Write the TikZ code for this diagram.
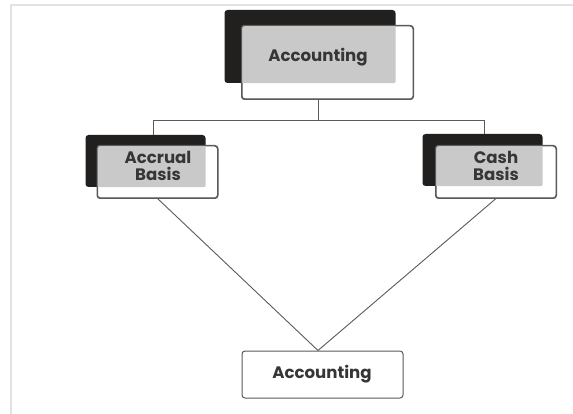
\documentclass[tikz,border=0pt]{standalone}
\usepackage{fontspec}
\setmainfont{Poppins}
\usepackage{tikz}
\usetikzlibrary{positioning,calc}
\definecolor{backink}{HTML}{221F1F}
\definecolor{midgray}{HTML}{C9C9C9}
\definecolor{edgegray}{HTML}{5A5A5A}
\definecolor{textgray}{HTML}{363636}
\definecolor{framegray}{HTML}{E2E2E2}

\begin{document}
\begin{tikzpicture}[
  x=1pt, y=-1pt,
  font=\fontsize{16.6}{17}\selectfont\bfseries,
  backbox/.style={fill=backink, draw=none, rounded corners=3pt, inner sep=0pt},
  frontbox/.style={fill=white, draw=edgegray, line width=1pt, rounded corners=3pt, inner sep=0pt},
  lbl/.style={text=textgray, align=center, inner sep=0pt},
  ln/.style={draw=edgegray, line width=0.9pt},
  frame/.style={draw=framegray, line width=1.5pt}
]
\useasboundingbox (0,0) rectangle (573,414);

% ==== page frame
\draw[frame] (573,5) -- (11,5) -- (11,414);

% ==== stacked boxes: black card behind, outlined card in front, grey overlap
\foreach \n/\bx/\by/\fx/\fy/\w/\h in {acct/310/46.5/327.5/62.5/171/73,
                                       acr/145.5/161/157.5/172/120/52,
                                       cash/482.5/160/496/172/120/52} {
  \node[backbox, minimum width=\w, minimum height=\h] (b\n) at (\bx,\by) {};
  \node[frontbox, minimum width=\w, minimum height=\h] (f\n) at (\fx,\fy) {};
  \fill[midgray, rounded corners=2pt] (f\n.north west) rectangle (b\n.south east);
  \draw[ln, line width=1pt, rounded corners=3pt] (f\n.north west) rectangle (f\n.south east);
}
\node[lbl] (tacct) at (318,57) {Accounting};
\node[lbl] (tacr) at (158,166) {Accrual\\Basis};
\node[lbl] (tcash) at (496,166) {Cash\\Basis};

% ==== bottom box
\node[frontbox, minimum width=161, minimum height=47] (bot) at (322.5,374.5) {};
\node[lbl] (tbot) at (322,374) {Accounting};

% ==== connectors
\coordinate (hubL) at (153,120);
\coordinate (hubR) at (484,120);
\draw[ln] (tacct |- facct.south) |- (hubL) -- (hubL |- bacr.north);
\draw[ln] (tacct |- facct.south) |- (hubR) -- (hubR |- bcash.north);
\draw[ln] (facr.south) -- (tacct |- bot.north);
\draw[ln] (fcash.south) -- (tacct |- bot.north);

\end{tikzpicture}
\end{document}
